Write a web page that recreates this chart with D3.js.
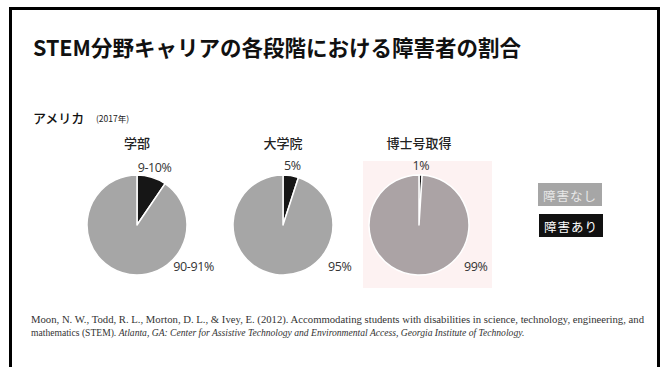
<!DOCTYPE html>
<html>
<head>
<meta charset="utf-8">
<script src="https://cdn.jsdelivr.net/npm/d3@7"></script>
<style>
  body { margin: 0; background: #fff; }
  svg { display: block; }
</style>
</head>
<body>
<script>
var width = 666, height = 367;

// data
var stages = ["学部", "大学院", "博士号取得"];
var withDisability = [9.5, 5, 1];
var withoutDisability = [90.5, 95, 99];
var withLabels = ["9-10%", "5%", "1%"];
var withoutLabels = ["90-91%", "95%", "99%"];
var legendLabels = ["障害なし", "障害あり"];
var titleText = "STEM分野キャリアの各段階における障害者の割合";
var countryText = "アメリカ";
var yearText = "(2017年)";
var citeLine1 = "Moon, N. W., Todd, R. L., Morton, D. L., & Ivey, E. (2012). Accommodating students with disabilities in science, technology, engineering, and";
var citeLine2a = "mathematics (STEM). ";
var citeLine2b = "Atlanta, GA: Center for Assistive Technology and Environmental Access, Georgia Institute of  Technology.";

var jp = "'Noto Sans CJK JP', 'Noto Sans', sans-serif";

var svg = d3.select("body").append("svg")
    .attr("width", width)
    .attr("height", height);

svg.append("rect")
    .attr("width", width).attr("height", height)
    .attr("fill", "#fff");

// frame
svg.append("rect")
    .attr("x", 10.5).attr("y", 8.5)
    .attr("width", 648).attr("height", 380)
    .attr("fill", "none")
    .attr("stroke", "#000")
    .attr("stroke-width", 3);

svg.append("text")
    .attr("x", 33).attr("y", 56)
    .attr("font-family", jp)
    .attr("font-weight", "bold")
    .attr("font-size", 21.5)
    .attr("fill", "#111")
    .text(titleText);

svg.append("text")
    .attr("x", 33).attr("y", 123)
    .attr("font-family", jp)
    .attr("font-size", 13)
    .attr("font-weight", 500)
    .attr("fill", "#111")
    .text(countryText);

svg.append("text")
    .attr("x", 96).attr("y", 122)
    .attr("font-family", jp)
    .attr("font-size", 8.5)
    .attr("fill", "#222")
    .text(yearText);

var xScale = d3.scaleOrdinal()
    .domain(stages)
    .range([137, 283, 419]);
var cy = 225, r = 50;

var color = d3.scaleOrdinal()
    .domain(["with", "without"])
    .range(["#161616", "#a6a6a6"]);

var pie = d3.pie().sort(null).value(d => d.value);
var arc = d3.arc().innerRadius(0).outerRadius(r);

// pink backdrop behind the doctoral pie
svg.append("rect")
    .attr("x", xScale(stages[2]) - 56).attr("y", 161)
    .attr("width", 129).attr("height", 127)
    .attr("fill", "#fdf2f2");

stages.forEach(function(s, i) {
    var g = svg.append("g")
        .attr("transform", "translate(" + xScale(s) + "," + cy + ")");

    var slices = pie([
        {key: "with", value: withDisability[i]},
        {key: "without", value: withoutDisability[i]}
    ]);

    g.selectAll("path")
        .data(slices)
        .enter().append("path")
        .attr("d", arc)
        .attr("fill", d => i === 2 && d.data.key === "without" ? "#aba3a5" : color(d.data.key))
        .attr("stroke", "#fff")
        .attr("stroke-width", 1.5)
        .attr("stroke-linejoin", "round");

    svg.append("text")
        .attr("x", xScale(s)).attr("y", 148)
        .attr("text-anchor", "middle")
        .attr("font-family", jp)
        .attr("font-size", 13)
        .attr("font-weight", 500)
        .attr("fill", "#222")
        .text(s);

    // small share label, outside the slice
    var a = (slices[0].startAngle + slices[0].endAngle) / 2;
    var lr = 60;
    g.append("text")
        .attr("x", Math.sin(a) * lr)
        .attr("y", -Math.cos(a) * lr)
        .attr("text-anchor", "middle")
        .attr("dominant-baseline", "central")
        .attr("font-family", "'Open Sans', sans-serif")
        .attr("font-size", 12.5)
        .attr("font-weight", 500)
        .attr("fill", "#333")
        .attr("letter-spacing", -0.4)
        .text(withLabels[i]);

    var b = 126 * Math.PI / 180, br = 70;
    g.append("text")
        .attr("x", Math.sin(b) * br)
        .attr("y", -Math.cos(b) * br)
        .attr("text-anchor", "middle")
        .attr("dominant-baseline", "central")
        .attr("font-family", "'Open Sans', sans-serif")
        .attr("font-size", 12.5)
        .attr("font-weight", 500)
        .attr("fill", "#333")
        .attr("letter-spacing", -0.4)
        .text(withoutLabels[i]);
});

// legend
var legend = svg.append("g").attr("transform", "translate(538,183)");
var legendFill = ["#a6a6a6", "#111"];
var legendText = ["#e8e8e8", "#fff"];
legendLabels.forEach(function(l, i) {
    var lg = legend.append("g").attr("transform", "translate(" + (i) + "," + (i * 31) + ")");
    lg.append("rect")
        .attr("width", 64).attr("height", 23)
        .attr("fill", legendFill[i]);
    lg.append("text")
        .attr("x", 32).attr("y", 12)
        .attr("text-anchor", "middle")
        .attr("dominant-baseline", "central")
        .attr("font-family", jp)
        .attr("font-size", 12.5)
        .attr("letter-spacing", 1)
        .attr("fill", legendText[i])
        .text(l);
});

// citation
var serif = "'Liberation Serif', 'DejaVu Serif', serif";
svg.append("text")
    .attr("x", 31).attr("y", 323)
    .attr("font-family", serif)
    .attr("font-size", 9.6)
    .attr("fill", "#333")
    .attr("textLength", 613)
    .attr("lengthAdjust", "spacingAndGlyphs")
    .text(citeLine1);

var c2 = svg.append("text")
    .attr("x", 31).attr("y", 336)
    .attr("font-family", serif)
    .attr("font-size", 9.6)
    .attr("fill", "#333");
c2.append("tspan").text(citeLine2a);
c2.append("tspan").attr("font-style", "italic").text(citeLine2b);
</script>
</body>
</html>
